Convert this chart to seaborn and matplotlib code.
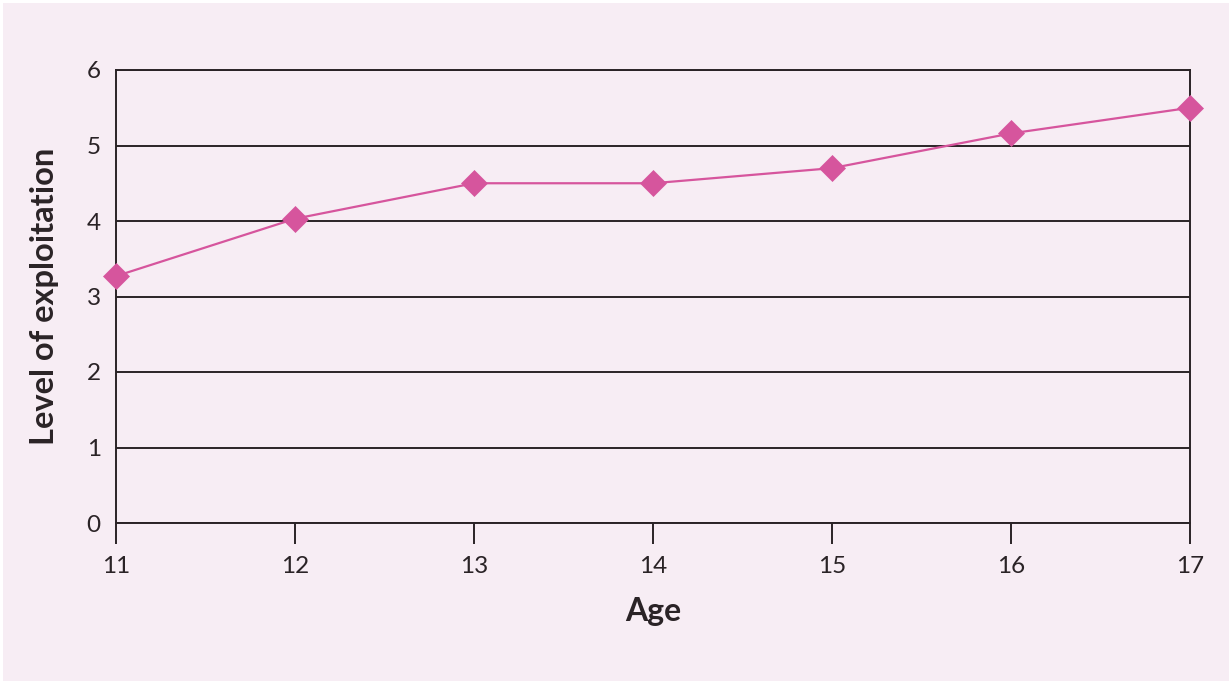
import matplotlib
matplotlib.use("Agg")
import matplotlib.pyplot as plt
import seaborn as sns
import pandas as pd
from matplotlib.patches import Rectangle

ages = [11, 12, 13, 14, 15, 16, 17]
exploitation = [3.27, 4.03, 4.5, 4.5, 4.7, 5.16, 5.5]
y_ticks = [0, 1, 2, 3, 4, 5, 6]

df = pd.DataFrame({"Age": ages, "Level": exploitation})

sns.set_theme(style="white")
plt.rcParams['font.family'] = ['Lato', 'DejaVu Sans']

bg = '#f7edf4'
ink = '#2a2326'
pink = '#d6559d'

fig = plt.figure(figsize=(12.29, 6.81), dpi=100, facecolor='white')
fig.patches.append(Rectangle((3/1229, 0), 1, 1 - 3/681, transform=fig.transFigure,
                             facecolor=bg, edgecolor='none', zorder=-10))
ax = fig.add_axes([116/1229, 1 - 523/681, (1190-116)/1229, (523-70)/681])
ax.set_facecolor(bg)

sns.lineplot(data=df, x="Age", y="Level", ax=ax, color=pink, linewidth=1.6,
             marker='D', markersize=13, markeredgecolor=pink, markeredgewidth=0.5,
             zorder=5, clip_on=False)

ax.set_xlim(11, 17)
ax.set_ylim(0, 6)
ax.set_yticks(y_ticks)
ax.set_xticks(ages)
ax.set_yticklabels([str(v) for v in y_ticks])
ax.set_xticklabels([str(v) for v in ages])
ax.grid(axis='y', color=ink, linewidth=1.4)
ax.grid(axis='x', visible=False)
ax.set_axisbelow(True)
for s in ax.spines.values():
    s.set_color(ink)
    s.set_linewidth(1.4)
    s.set_visible(True)

ax.tick_params(axis='y', length=0, pad=11, labelsize=17.5, labelcolor=ink)
ax.tick_params(axis='x', direction='out', length=15, width=1.4, color=ink,
               pad=9, labelsize=17.5, labelcolor=ink, bottom=True)

ax.set_xlabel("Age", fontsize=23, fontweight='bold', color=ink, labelpad=14)
ax.set_ylabel("Level of exploitation", fontsize=23.5, fontweight='bold', color=ink, labelpad=20)

fig.savefig("out.png", dpi=100, facecolor=fig.get_facecolor())
